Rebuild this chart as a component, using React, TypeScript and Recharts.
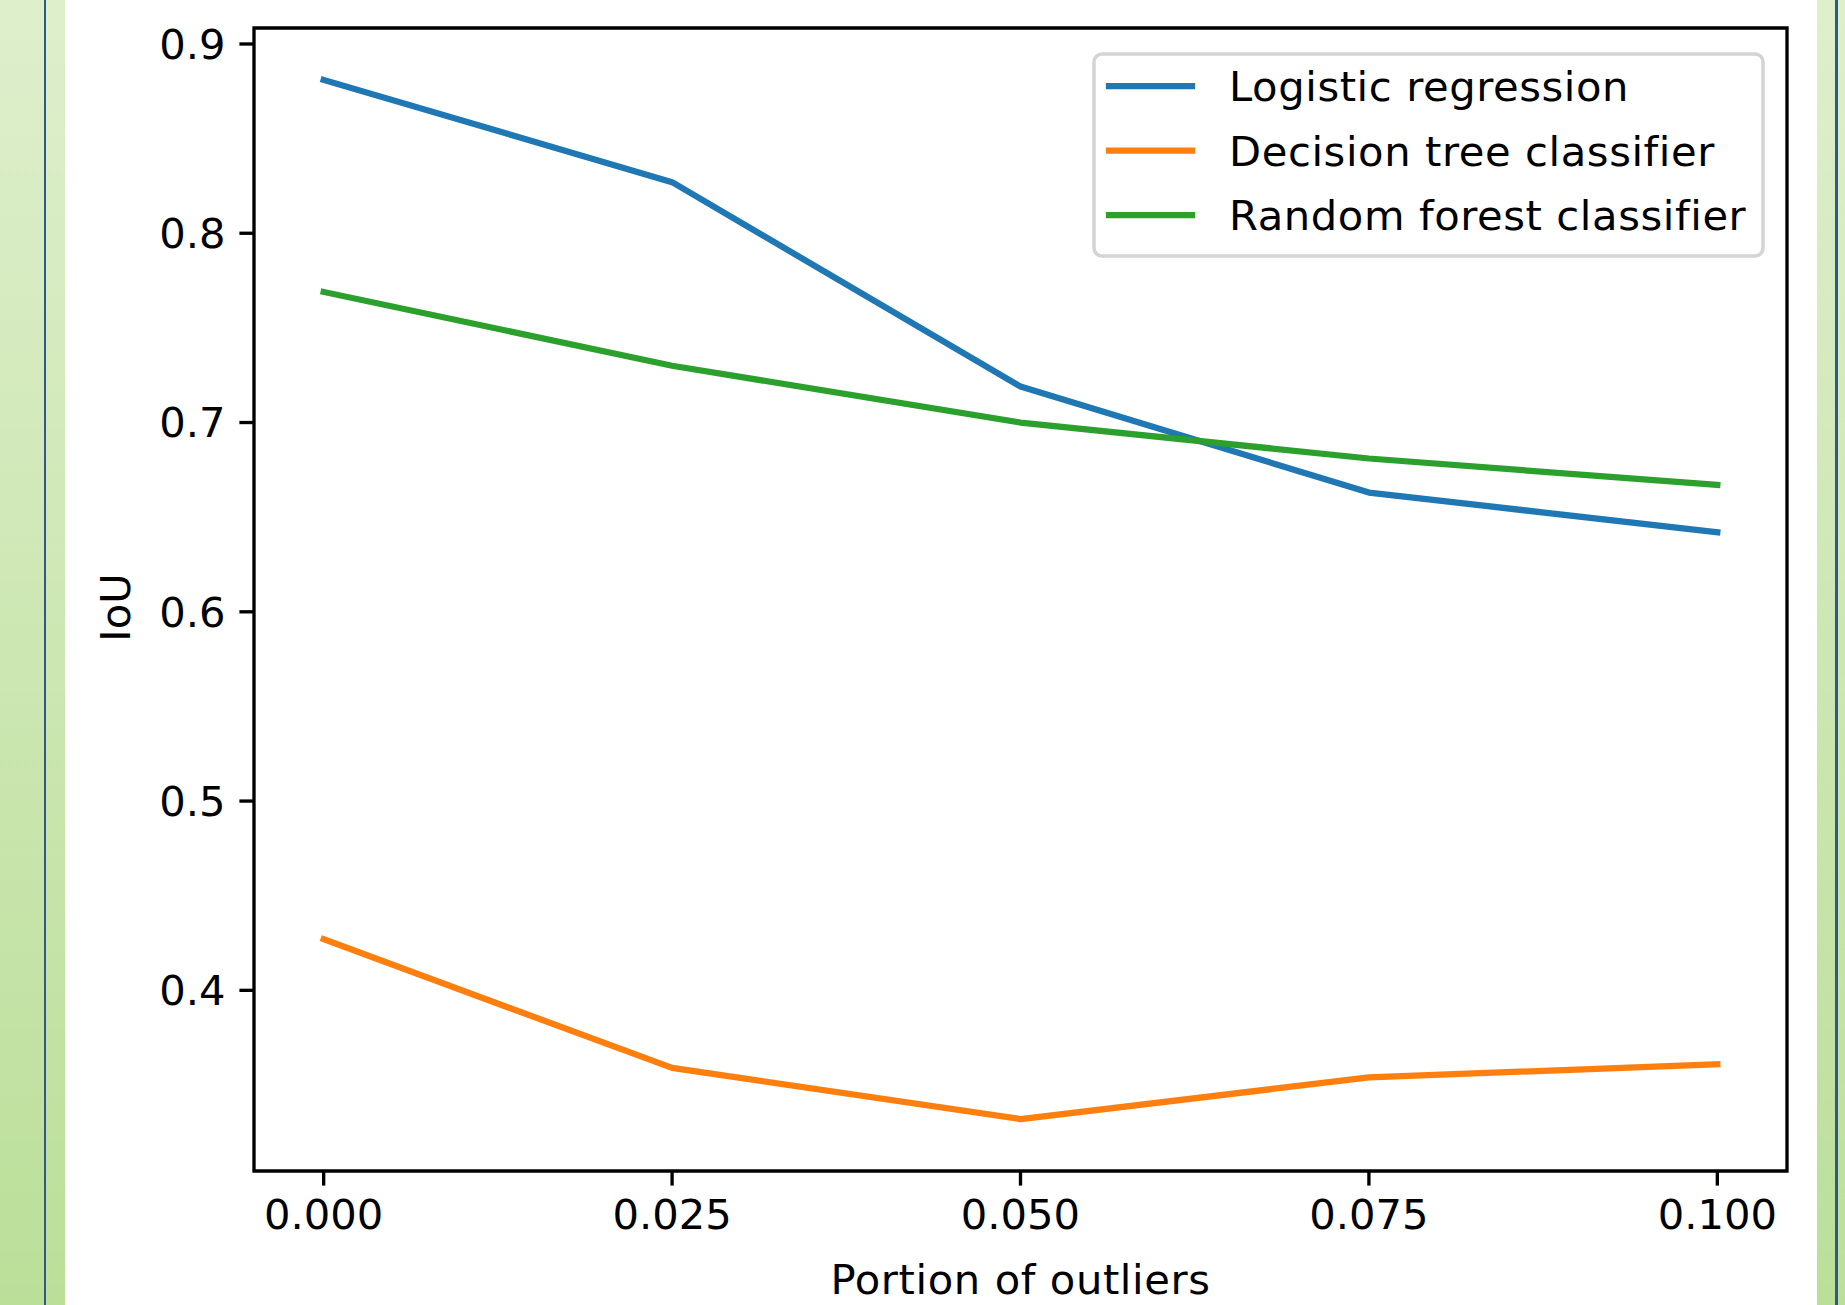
import React from 'react';
import { LineChart, Line, XAxis, YAxis, Legend, ReferenceArea } from 'recharts';

// ---- data ----
const xValues = [0, 0.025, 0.05, 0.075, 0.1];
const logisticRegression = [0.881, 0.827, 0.719, 0.663, 0.642];
const decisionTree = [0.427, 0.359, 0.332, 0.354, 0.361];
const randomForest = [0.769, 0.730, 0.700, 0.681, 0.667];
const xTicks = [0, 0.025, 0.05, 0.075, 0.1];
const yTicks = [0.4, 0.5, 0.6, 0.7, 0.8, 0.9];

const seriesNames = ['Logistic regression', 'Decision tree classifier', 'Random forest classifier'];
const seriesKeys = ['logistic', 'tree', 'forest'];
const seriesColors = ['#1f77b4', '#ff7f0e', '#2ca02c'];

const rows = xValues.map((x, i) => ({
  x,
  logistic: logisticRegression[i],
  tree: decisionTree[i],
  forest: randomForest[i],
}));

// matplotlib-style 5% margins
const allY = [...logisticRegression, ...decisionTree, ...randomForest];
const yLo = Math.min(...allY);
const yHi = Math.max(...allY);
const yPad = (yHi - yLo) * 0.05;
const yDomain = [yLo - yPad, yHi + yPad];
const xLo = Math.min(...xValues);
const xHi = Math.max(...xValues);
const xPad = (xHi - xLo) * 0.05;
const xDomain = [xLo - xPad, xHi + xPad];

const FONT = 'DejaVu Sans';
const FS = 41.67;

const tickStyle = { fill: '#000', fontSize: FS, fontFamily: FONT };

const LegendBox = (props: any) => {
  const payload = [...(props.payload || [])].sort(
    (a: any, b: any) => seriesNames.indexOf(a.value) - seriesNames.indexOf(b.value)
  );
  const w = 673;
  const h = 206;
  return (
    <svg width={w} height={h} style={{ display: 'block' }}>
      <rect x={2} y={2} width={w - 4} height={h - 4} rx={8} ry={8} fill="#fff" fillOpacity={0.8} stroke="#d4d4d4" strokeWidth={3.5} />
      {payload.map((p: any, i: number) => {
        const cy = 34 + i * 64.5;
        return (
          <g key={i}>
            <line x1={17} x2={100} y1={cy} y2={cy} stroke={p.color} strokeWidth={6.25} strokeLinecap="square" />
            <text x={137} y={cy} dy="0.36em" fill="#000" fontSize={FS} fontFamily={FONT} style={{ letterSpacing: '0.6px' }}>
              {p.value}
            </text>
          </g>
        );
      })}
    </svg>
  );
};

const YLabel = (props: any) => {
  const vb = props.viewBox || { x: 0, y: 0, width: 0, height: 0 };
  const x = vb.x - 4;
  const y = vb.y + vb.height / 2 + 8;
  return (
    <text
      x={x}
      y={y}
      transform={`rotate(-90 ${x} ${y})`}
      textAnchor="middle"
      fill="#000"
      fontSize={FS}
      fontFamily={FONT}
    >
      IoU
    </text>
  );
};

const XLabel = (props: any) => {
  const vb = props.viewBox || { x: 0, y: 0, width: 0, height: 0 };
  const x = vb.x + vb.width / 2;
  const y = vb.y + vb.height;
  return (
    <text
      x={x}
      y={y}
      dy="0.71em"
      textAnchor="middle"
      fill="#000"
      fontSize={FS}
      fontFamily={FONT}
      style={{ letterSpacing: '0.6px' }}
    >
      Portion of outliers
    </text>
  );
};

export default function App() {
  return (
    <div
      style={{
        position: 'absolute',
        left: 0,
        top: 0,
        width: 1845,
        height: 1305,
        background: '#fff',
        overflow: 'hidden',
        fontFamily: FONT,
      }}
    >
      <div style={{ position: 'absolute', left: 0, top: 0, width: 65, height: 1305, background: 'linear-gradient(#deefcc, #bbdf99)' }} />
      <div style={{ position: 'absolute', left: 43.5, top: 0, width: 2.5, height: 1305, background: '#2d5a86' }} />
      <div style={{ position: 'absolute', left: 1817, top: 0, width: 28, height: 1305, background: 'linear-gradient(#deefcc, #bbdf99)' }} />
      <div style={{ position: 'absolute', left: 1835, top: 0, width: 2.5, height: 1305, background: '#2d5a86' }} />
      <div style={{ position: 'absolute', left: 0, top: 0 }}>
        <LineChart
          width={1845}
          height={1305}
          data={rows}
          margin={{ top: 28, right: 58, bottom: 41, left: 134 }}
        >
          <XAxis
            type="number"
            dataKey="x"
            domain={xDomain}
            allowDataOverflow
            ticks={xTicks}
            interval={0}
            tickFormatter={(v: number) => v.toFixed(3)}
            tick={tickStyle}
            tickSize={14.6}
            tickMargin={14}
            tickLine={{ stroke: '#000', strokeWidth: 3.33 }}
            axisLine={false}
            height={93}
            label={<XLabel />}
          />
          <YAxis
            type="number"
            domain={yDomain}
            allowDataOverflow
            ticks={yTicks}
            interval={0}
            tickFormatter={(v: number) => v.toFixed(1)}
            tick={tickStyle}
            tickSize={14.6}
            tickMargin={14}
            tickLine={{ stroke: '#000', strokeWidth: 3.33 }}
            axisLine={false}
            width={120}
            label={<YLabel />}
          />
          {seriesKeys.map((k, i) => (
            <Line
              key={k}
              type="linear"
              dataKey={k}
              name={seriesNames[i]}
              stroke={seriesColors[i]}
              strokeWidth={6.25}
              strokeLinejoin="round"
              strokeLinecap="square"
              dot={false}
              activeDot={false}
              isAnimationActive={false}
            />
          ))}
          <ReferenceArea
            x1={xDomain[0]}
            x2={xDomain[1]}
            y1={yDomain[0]}
            y2={yDomain[1]}
            fill="none"
            fillOpacity={0}
            stroke="#000"
            strokeWidth={3.33}
            ifOverflow="visible"
          />
          <Legend
            layout="vertical"
            align="center"
            verticalAlign="middle"
            itemSorter={null as any}
            wrapperStyle={{ left: 1092, top: 52, width: 673, height: 206 }}
            content={<LegendBox />}
          />
        </LineChart>
      </div>
    </div>
  );
}
